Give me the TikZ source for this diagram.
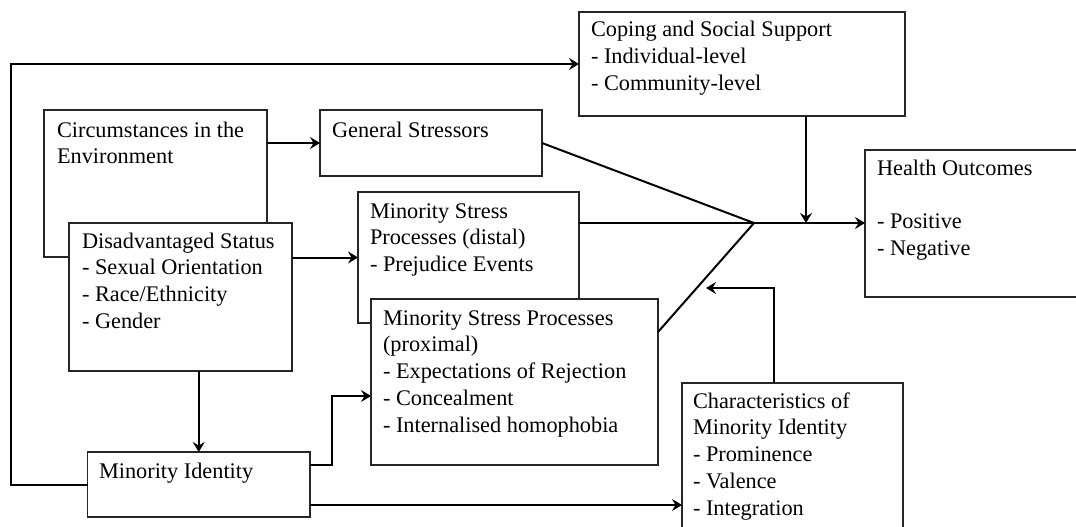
\documentclass[tikz,border=0pt]{standalone}
\usepackage{fontspec}
\setmainfont{Liberation Serif}
\usetikzlibrary{arrows.meta,calc}
\tikzset{
  box/.style={draw=black!85, line width=1.5pt, fill=white, rectangle, inner sep=0pt, outer sep=0pt, anchor=north west},
  txt/.style={anchor=base west, inner sep=0pt, outer sep=0pt, font=\fontsize{22.3}{26.8}\selectfont},
  conn/.style={line width=2pt, black},
  arr/.style={conn, -{Stealth[length=10pt,width=12pt,inset=3.5pt]}}
}
\begin{document}
\begin{tikzpicture}[x=1pt,y=-1pt]
\useasboundingbox (0,0) rectangle (1076,527);
\clip (0,0) rectangle (1076,527);
% boxes
\node[box, minimum width=326, minimum height=104] (cope) at (579,12) {};
\node[box, minimum width=223, minimum height=147] (circ) at (44,110) {};
\node[box, minimum width=223, minimum height=148] (dis) at (69,223) {};
\node[box, minimum width=222, minimum height=66] (gen) at (320,110) {};
\node[box, minimum width=221, minimum height=131] (dist) at (358,192) {};
\node[box, minimum width=287, minimum height=166] (prox) at (371,299) {};
\node[box, minimum width=240, minimum height=147] (health) at (865,150) {};
\node[box, minimum width=221, minimum height=170] (char) at (682,383) {};
\node[box, minimum width=222.5, minimum height=65] (mi) at (87.5,452) {};
% texts
\node[txt] (copeT) at (591,37) {\begin{tabular}[t]{@{}l@{}}Coping and Social Support\\- Individual-level\\- Community-level\end{tabular}};
\node[txt] (circT) at (57,137) {\begin{tabular}[t]{@{}l@{}}Circumstances in the\\Environment\end{tabular}};
\node[txt] (genT) at (332,137) {General Stressors};
\node[txt] (disT) at (82,248) {\begin{tabular}[t]{@{}l@{}}Disadvantaged Status\\- Sexual Orientation\\- Race/Ethnicity\\- Gender\end{tabular}};
\node[txt] (distT) at (370,218) {\begin{tabular}[t]{@{}l@{}}Minority Stress\\Processes (distal)\\- Prejudice Events\end{tabular}};
\node[txt] (proxT) at (383,325) {\begin{tabular}[t]{@{}l@{}}Minority Stress Processes\\(proximal)\\- Expectations of Rejection\\- Concealment\\- Internalised homophobia\end{tabular}};
\node[txt] (healthT) at (877,175) {\begin{tabular}[t]{@{}l@{}}Health Outcomes\\ \\- Positive\\- Negative\end{tabular}};
\node[txt] (charT) at (693,408) {\begin{tabular}[t]{@{}l@{}}Characteristics of\\Minority Identity\\- Prominence\\- Valence\\- Integration\end{tabular}};
\node[txt] (miT) at (99,478) {Minority Identity};
% coordinates
\coordinate (j) at (754,223);
\coordinate (cj) at (806,223);
\coordinate (tl) at (10.7,64);
\coordinate (bend1) at (332,396);
\coordinate (cu) at (774,288);
\coordinate (ct) at (706,288);
% connectors
\draw[arr] (circ.east |- gen.west) -- (gen.west);
\draw[arr] (dis.east |- dist.west) -- (dist.west);
\draw[conn] (gen.east) -- (j);
\draw[conn] (dist.east |- j) -- (j);
\draw[conn] ($(prox.north east)+(0,33)$) -- (j);
\draw[arr] (j) -- (health.west |- j);
\draw[arr] (cope.south -| cj) -- (cj);
\draw[arr] (mi.west) -| (tl) -- (cope.west |- tl);
\draw[arr] (dis.south -| mi.north) -- (mi.north);
\draw[arr] ($(mi.north east)+(0,13)$) -| (bend1) -- (prox.west |- bend1);
\draw[arr] ($(mi.south east)+(0,-12)$) coordinate (m1) -- (m1 -| char.west);
\draw[arr] (char.north -| cu) -- (cu) -- (ct);
\end{tikzpicture}
\end{document}
